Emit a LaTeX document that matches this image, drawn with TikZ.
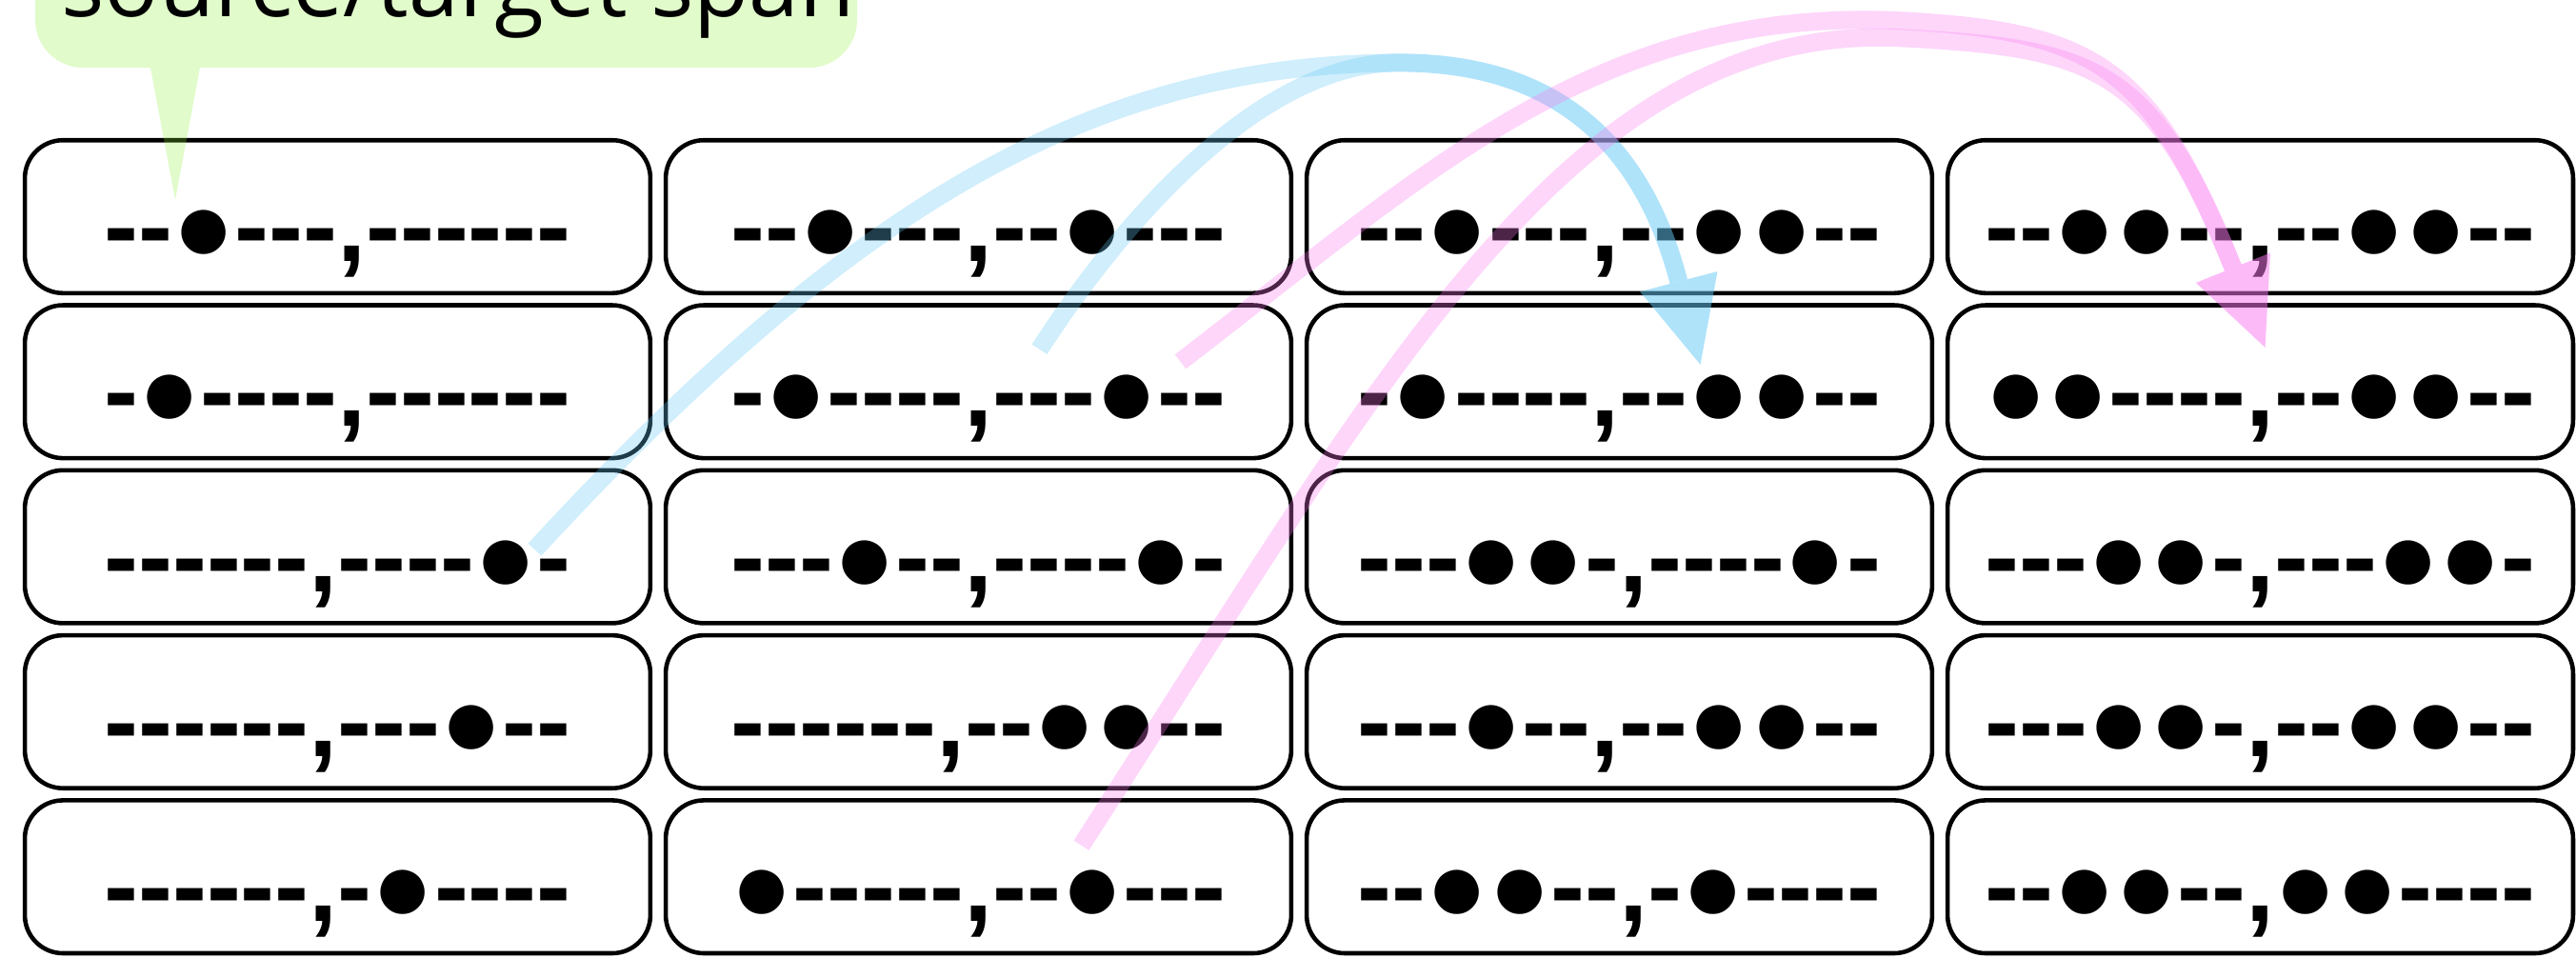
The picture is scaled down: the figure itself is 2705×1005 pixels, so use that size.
\documentclass[tikz,border=0pt]{standalone}
\usepackage{fontspec}
\usetikzlibrary{arrows.meta}
\newfontfamily\spanfont{Liberation Sans}[Ligatures=TeXOff]
\newfontfamily\notefont{Open Sans}
\definecolor{notegreen}{RGB}{136,240,48}
\definecolor{skyblue}{RGB}{100,200,245}
\definecolor{rosepink}{RGB}{250,120,240}

\begin{document}
\begin{tikzpicture}[x=0.01cm,y=-0.01cm,
    cell/.style={draw,line width=1.3pt,rounded corners=0.4cm,
      minimum width=6.565cm,minimum height=1.605cm,inner sep=0pt,
      text height=0.94cm,text depth=0pt,
      font=\spanfont\bfseries\fontsize{30.7}{36}\selectfont},
    note/.style={fill=notegreen,fill opacity=0.25},
    hop/.style={line width=0.19cm,
      -{Triangle[length=0.9cm,width=0.84cm,line width=0pt]}}]
  \useasboundingbox (0,0) rectangle (2705,1005);
  \clip (0,0) rectangle (2705,1005);
  \def\cellrow#1#2{
    \foreach \s [count=\i] in {#2} {
      \node[cell] (c-\i-#1) at ({354.5+673*(\i-1)},{227.5+173.3*(#1-1)}) {\s};
    }
  }
  \cellrow1{{--●---,------},{--●---,--●---},{--●---,--●●--},{--●●--,--●●--}}
  \cellrow2{{-●----,------},{-●----,---●--},{-●----,--●●--},{●●----,--●●--}}
  \cellrow3{{------,----●-},{---●--,----●-},{---●●-,----●-},{---●●-,---●●-}}
  \cellrow4{{------,---●--},{------,--●●--},{---●--,--●●--},{---●●-,--●●--}}
  \cellrow5{{------,-●----},{●-----,--●---},{--●●--,-●----},{--●●--,●●----}}

  % speech bubble
  \fill[note] (37,-60) [rounded corners=0.5cm] -- (37,71)
    [sharp corners] -- (158,71) -- (184,210) -- (210,71)
    [rounded corners=0.5cm] -- (900,71) -- (900,-60) -- cycle;
  \node[anchor=base west,inner sep=0pt,
    font=\notefont\fontsize{27}{31}\selectfont] (span) at (64,17) {source/target span};

  % blue: into the second row, third column
  \begin{scope}[transparency group,opacity=0.3]
    \draw[hop,draw=skyblue] ([shift={(207,3)}]c-1-3.center)
      .. controls (900,210) and (1150,70) .. (1460,66)
      .. controls (1650,62) and (1730,170) .. ([shift={(85,-18)}]c-3-2.center);
  \end{scope}
  \begin{scope}[transparency group,opacity=0.3]
    \draw[hop,draw=skyblue] ([shift={(64,-34)}]c-2-2.center)
      .. controls (1180,230) and (1320,72) .. (1460,66)
      .. controls (1650,62) and (1730,170) .. ([shift={(85,-18)}]c-3-2.center);
  \end{scope}

  % pink: into the second row, fourth column
  \begin{scope}[transparency group,opacity=0.3]
    \draw[hop,draw=rosepink] ([shift={(212,-21)}]c-2-2.center)
      .. controls (1500,180) and (1680,5) .. (2000,22)
      .. controls (2200,33) and (2260,70) .. ([shift={(5,-36)}]c-4-2.center);
  \end{scope}
  \begin{scope}[transparency group,opacity=0.3]
    \draw[hop,draw=rosepink] ([shift={(108,-33)}]c-2-5.center)
      .. controls (1450,400) and (1650,20) .. (2000,40)
      .. controls (2200,51) and (2260,70) .. ([shift={(5,-36)}]c-4-2.center);
  \end{scope}
\end{tikzpicture}
\end{document}
